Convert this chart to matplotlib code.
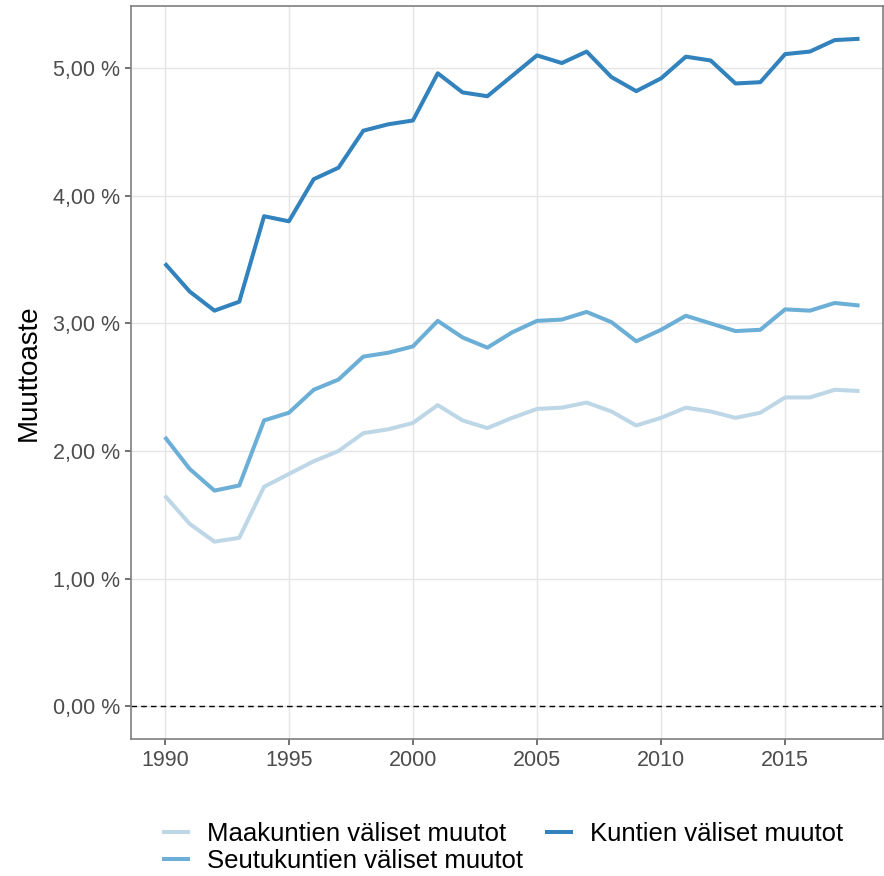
import matplotlib.pyplot as plt
from matplotlib.ticker import FuncFormatter

plt.rcParams['font.family'] = ['Liberation Sans', 'DejaVu Sans']

years = list(range(1990, 2019))
maakunnat = [1.65, 1.43, 1.29, 1.32, 1.72, 1.82, 1.92, 2.00, 2.14, 2.17,
             2.22, 2.36, 2.24, 2.18, 2.26, 2.33, 2.34, 2.38, 2.31, 2.20,
             2.26, 2.34, 2.31, 2.26, 2.30, 2.42, 2.42, 2.48, 2.47]
seutukunnat = [2.11, 1.86, 1.69, 1.73, 2.24, 2.30, 2.48, 2.56, 2.74, 2.77,
               2.82, 3.02, 2.89, 2.81, 2.93, 3.02, 3.03, 3.09, 3.01, 2.86,
               2.95, 3.06, 3.00, 2.94, 2.95, 3.11, 3.10, 3.16, 3.14]
kunnat = [3.47, 3.25, 3.10, 3.17, 3.84, 3.80, 4.13, 4.22, 4.51, 4.56,
          4.59, 4.96, 4.81, 4.78, 4.94, 5.10, 5.04, 5.13, 4.93, 4.82,
          4.92, 5.09, 5.06, 4.88, 4.89, 5.11, 5.13, 5.22, 5.23]
labels = ['Maakuntien väliset muutot', 'Seutukuntien väliset muutot',
          'Kuntien väliset muutot']
colors = ['#bdd7e7', '#6baed6', '#3182bd']

fig = plt.figure(figsize=(8.84, 8.76), dpi=100)
ax = fig.add_axes([0.148, 0.156, 0.851, 0.837])

for vals, lab, c in zip([maakunnat, seutukunnat, kunnat], labels, colors):
    ax.plot(years, vals, color=c, lw=2.9, label=lab, solid_capstyle='butt')

ax.axhline(0, color='black', lw=1, ls=(0, (4, 3)))

ax.set_xlim(1988.63, 2018.95)
ax.set_ylim(-0.259, 5.486)
ax.set_xticks(range(1990, 2016, 5))
ax.set_yticks([0, 1, 2, 3, 4, 5])
ax.yaxis.set_major_formatter(FuncFormatter(lambda v, p: f'{v:.2f} %'.replace('.', ',')))
ax.grid(True, color='#e5e5e5', lw=1)
ax.set_axisbelow(True)
for s in ax.spines.values():
    s.set_color('#7f7f7f')
    s.set_linewidth(1.2)
ax.tick_params(colors='#4d4d4d', labelsize=15.5, length=4, width=1.1)
ax.tick_params(axis='x', pad=4)
ax.set_ylabel('Muuttoaste', fontsize=20, labelpad=8)

fig.legend(loc='center', bbox_to_anchor=(0.568, 0.033), ncol=2, frameon=False,
           fontsize=18.5, handlelength=1.1, columnspacing=0.86, handletextpad=0.65,
           labelspacing=0.12)

fig.savefig('out.png', dpi=100)
